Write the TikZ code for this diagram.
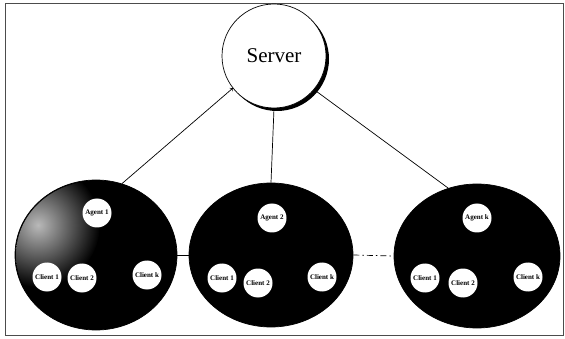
\documentclass[tikz,border=0pt]{standalone}
\usepackage{fontspec}
\setmainfont{Liberation Serif}
\usetikzlibrary{shapes.geometric}
\begin{document}
\begin{tikzpicture}[x=1pt, y=-1pt, line width=0.7pt,
  group/.style = {draw, ellipse, fill=black, inner sep=0pt},
  small/.style = {circle, fill=white, minimum size=29pt, inner sep=0pt, font=\fontsize{7}{8}\selectfont\bfseries}]
\useasboundingbox (0,0) rectangle (565,339);
\draw[gray!60!black, line width=0.8pt] (5,3) rectangle (563,335);

% server and its shadow
\fill[black] (277,59) circle (52);
\node[circle, draw, fill=white, minimum size=104pt, inner sep=0pt, font=\fontsize{21}{24}\selectfont] (s) at (274,56) {Server};

% the three groups
\node[group, minimum width=162pt, minimum height=150pt] (g1) at (96,255) {};
\node[group, minimum width=164pt, minimum height=144pt] (g2) at (271,255) {};
\node[group, minimum width=166pt, minimum height=144pt] (g3) at (477,256) {};

\begin{scope}
\clip (96,255) ellipse (80 and 74);
\shade[inner color=gray!55, outer color=black] (38,225) circle (62);
\end{scope}

\node[small] (a1) at (97,213) {Agent 1};
\node[small] (c11) at (47,277) {Client 1};
\node[small] (c12) at (82,278) {Client 2};
\node[small] (c1k) at (147,275) {Client k};

\node[small] (a2) at (272,218) {Agent 2};
\node[small] (c21) at (222,278) {Client 1};
\node[small] (c22) at (258,283) {Client 2};
\node[small] (c2k) at (322,277) {Client k};

\node[small] (a3) at (477,218) {Agent k};
\node[small] (c31) at (425,278) {Client 1};
\node[small] (c32) at (463,283) {Client 2};
\node[small] (c3k) at (528,277) {Client k};

\draw[->] (g1.70) -- (s.218);
\draw (s.south) -- (g2.north);
\draw (s.320) -- (g3.113);
\draw (g1.east) -- (g2.west);
\draw[dash pattern=on 6pt off 3pt on 1.5pt off 3pt] (g2.east) -- (g3.west);

\end{tikzpicture}
\end{document}
